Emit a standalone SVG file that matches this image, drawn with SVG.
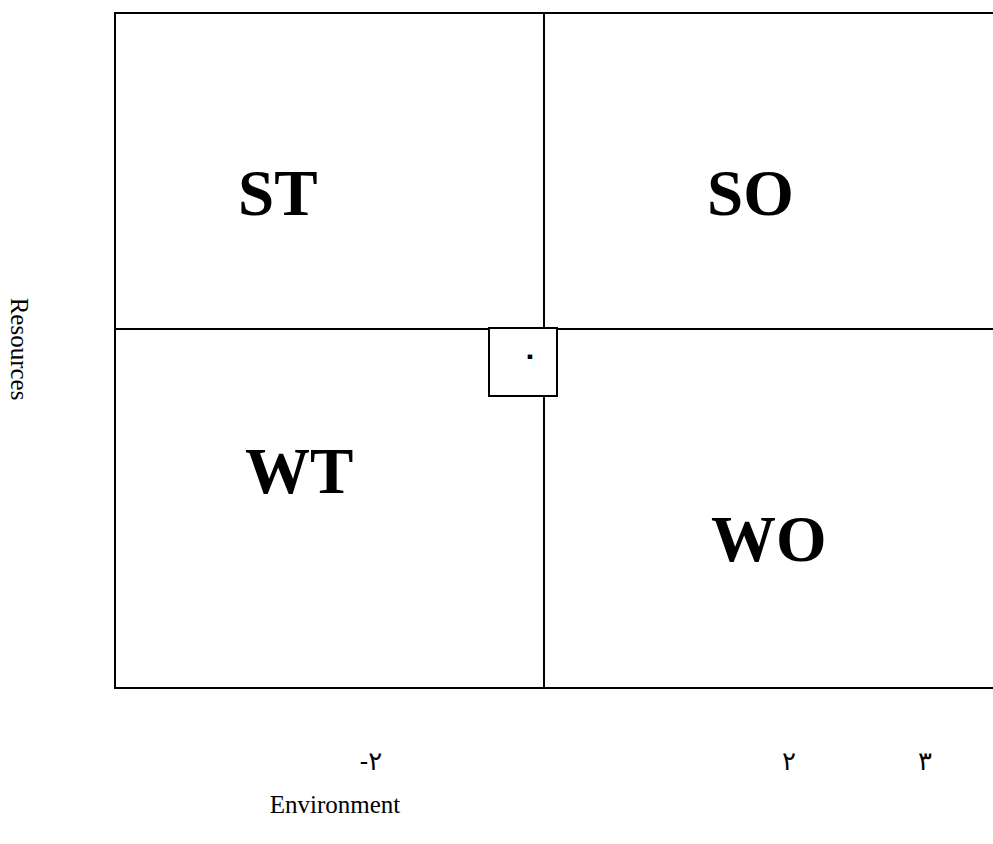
<svg xmlns="http://www.w3.org/2000/svg" width="993" height="844" viewBox="0 0 993 844">
<style>
.q{font-family:"Liberation Serif","Times New Roman",serif;font-weight:bold;font-size:65px;fill:#000}
.t{font-family:"Liberation Serif","Times New Roman",serif;font-size:25px;fill:#000}
.n{font-family:"Noto Sans","DejaVu Sans",sans-serif;font-size:26px;fill:#000}
.ln{stroke:#000;stroke-width:2;fill:none}
</style>
<rect width="993" height="844" fill="#fff"/>
<g id="frame">
<path class="ln" d="M995 13 H115 V688 H995"/>
</g>
<g id="connectors">
<line class="ln" x1="544" y1="13" x2="544" y2="688"/>
<line class="ln" x1="115" y1="329" x2="995" y2="329"/>
</g>
<g id="origin">
<rect x="489" y="328" width="68" height="68" fill="#fff" stroke="#000" stroke-width="2"/>
<text class="n" x="530" y="364" text-anchor="middle" font-weight="bold">٠</text>
</g>
<g id="ST"><text class="q" x="238" y="215">ST</text></g>
<g id="SO"><text class="q" x="707" y="215">SO</text></g>
<g id="WT"><text class="q" x="245" y="493">WT</text></g>
<g id="WO"><text class="q" x="711" y="561">WO</text></g>
<g id="axis-labels">
<text class="n" x="371" y="770" text-anchor="middle">-٢</text>
<text class="n" x="789" y="770" text-anchor="middle">٢</text>
<text class="n" x="925" y="770" text-anchor="middle">٣</text>
<text class="t" x="335" y="813" text-anchor="middle">Environment</text>
<text class="t" transform="translate(11,349) rotate(90)" text-anchor="middle">Resources</text>
</g>
</svg>
